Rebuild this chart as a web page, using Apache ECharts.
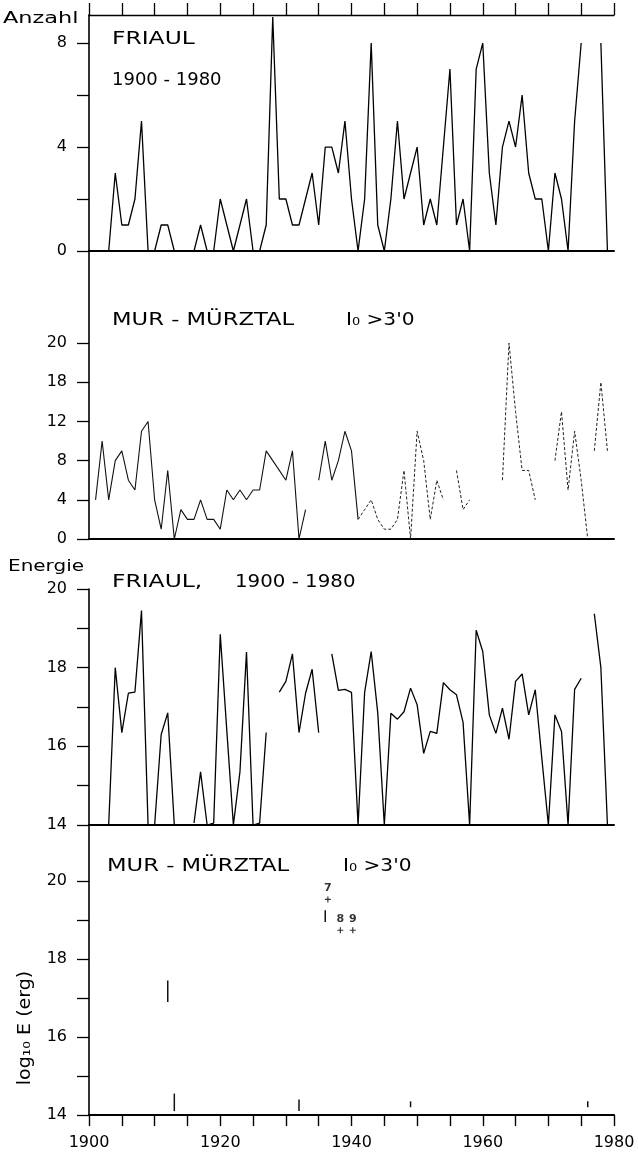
<!DOCTYPE html>
<html><head><meta charset="utf-8">
<script src="https://cdn.jsdelivr.net/npm/echarts@6/dist/echarts.min.js"></script>
<style>html,body{margin:0;padding:0;background:#fff}#c{width:638px;height:1155px}</style>
</head><body><div id="c"></div>
<script>
// ---------- data ----------
const years = [1901,1902,1903,1904,1905,1906,1907,1908,1909,1910,
  1911,1912,1913,1914,1915,1916,1917,1918,1919,1920,
  1921,1922,1923,1924,1925,1926,1927,1928,1929,1930,
  1931,1932,1933,1934,1935,1936,1937,1938,1939,1940,
  1941,1942,1943,1944,1945,1946,1947,1948,1949,1950,
  1951,1952,1953,1954,1955,1956,1957,1958,1959,1960,
  1961,1962,1963,1964,1965,1966,1967,1968,1969,1970,
  1971,1972,1973,1974,1975,1976,1977,1978,1979];

// Friaul, number of events (Anzahl)
const friaulCount = [null,null,0,3,1,1,2,5,0,0,
  1,1,0,0,0,0,1,0,0,2,
  1,0,1,2,0,0,1,9,2,2,
  1,1,2,3,1,4,4,3,5,2,
  0,2,8,1,0,2,5,2,3,4,
  1,2,1,4,7,1,2,0,7,8,
  3,1,4,5,4,6,3,2,2,0,
  3,2,0,5,8,null,null,8,0];

// Mur-Mürztal, number of events, I0 > 3.0
const murCount = [4,10,4,8,9,6,5,11,12,4,
  1,7,0,3,2,2,4,2,2,1,
  5,4,5,4,5,5,9,8,7,6,
  9,0,3,null,6,10,6,8,11,9,
  2,3,4,2,1,1,2,7,0,11,
  8,2,6,4,null,7,3,4,null,null,
  null,null,6,20,13,7,7,4,null,null,
  8,13,5,11,6,0,9,16,9];

// Friaul, energy log10 E (erg)
const friaulEnergy = [null,null,14.0,18.0,16.35,17.35,17.38,19.45,14.0,14.0,
  16.3,16.85,14.0,null,null,14.05,15.35,14.0,14.05,18.85,
  16.4,14.0,15.35,18.4,14.0,14.05,16.35,null,17.38,17.65,
  18.35,16.35,17.35,17.96,16.35,null,18.35,17.42,17.45,17.37,
  14.0,17.37,18.41,16.85,14.0,16.84,16.69,16.88,17.48,17.06,
  15.82,16.38,16.33,17.62,17.44,17.31,16.61,14.0,18.95,18.41,
  16.8,16.33,16.97,16.18,17.65,17.84,16.8,17.44,15.7,14.0,
  16.8,16.38,14.0,17.45,17.73,null,19.37,18.0,14.0];

// Mur-Mürztal energy: short vertical marks (year, low, high)
const murEBarYears = [1912, 1913, 1932, 1936, 1949, 1976];
const murEBarLow   = [16.9, 14.1, 14.1, 18.95, 14.2, 14.2];
const murEBarHigh  = [17.45, 14.55, 14.4, 19.25, 14.35, 14.35];
// Mur-Mürztal energy: labelled single events
const murEMarkYears  = [1936.4, 1938.3, 1940.2];
const murEMarkValues = [19.53, 18.74, 18.74];
const murEMarkLabels = ['7', '8', '9'];

// Mur-Mürztal count line pieces (year ranges)
const murPieces = [[1901, 1941], [1941, 1976], [1977, 1979]];

// Ticks / labels
const yearTicks  = [1900,1905,1910,1915,1920,1925,1930,1935,1940,1945,1950,1955,1960,1965,1970,1975,1980];
const yearLabels = [1900,1920,1940,1960,1980];
const countTicks  = [0,2,4,6,8];
const countLabels = [0,4,8];
const murTickValues = [0,4,8,12,16,20];
const murTickLabels = ['0','4','8','12','18','20'];
const energyTicks  = [14,15,16,17,18,19,20];
const energyLabels = [14,16,18,20];

// ---------- chart ----------
const FONT = 'DejaVu Sans';
const chart = echarts.init(document.getElementById('c'), null, {renderer: 'canvas', width: 638, height: 1155});

function pairs(vals, lo, hi) {
  return years.map((y, i) => [y, (y >= lo && y <= hi && vals[i] != null) ? vals[i] : '-']);
}
const lineAx = {show: true, onZero: false, lineStyle: {color: '#000', width: 1.6}};
const lbl = {fontFamily: FONT, fontSize: 16, color: '#000'};

function xLineOnly(gi, pos) {
  return {gridIndex: gi, type: 'value', min: 1900, max: 1980, position: pos,
    axisLine: {show: true, onZero: false, lineStyle: {color: '#000', width: 2}},
    axisTick: {show: false}, axisLabel: {show: false}, splitLine: {show: false}};
}

const option = {
  animation: false,
  backgroundColor: '#fff',
  grid: [
    {left: 89, right: 24, top: 15, height: 236},
    {left: 89, right: 24, top: 251, height: 288},
    {left: 89, right: 24, top: 589, height: 236},
    {left: 89, right: 24, top: 825, height: 290}
  ],
  xAxis: [
    {gridIndex: 0, type: 'value', min: 1900, max: 1980, position: 'top',
      axisLine: {show: true, onZero: false, lineStyle: {color: '#000', width: 1.3}},
      axisTick: {show: true, length: 12, customValues: yearTicks, lineStyle: {color: '#000', width: 1.3}},
      axisLabel: {show: false}, splitLine: {show: false}},
    xLineOnly(0, 'bottom'),
    xLineOnly(1, 'bottom'),
    xLineOnly(2, 'bottom'),
    {gridIndex: 3, type: 'value', min: 1900, max: 1980, position: 'bottom',
      axisLine: {show: true, onZero: false, lineStyle: {color: '#000', width: 2}},
      axisTick: {show: true, length: 11, customValues: yearTicks, lineStyle: {color: '#000', width: 1.4}},
      axisLabel: Object.assign({margin: 20, customValues: yearLabels, formatter: v => String(v)}, lbl),
      splitLine: {show: false}}
  ],
  yAxis: [
    {gridIndex: 0, type: 'value', min: 0, max: 9.08, axisLine: lineAx,
      axisTick: {show: true, length: 12, customValues: countTicks, lineStyle: {color: '#000', width: 1.3}},
      axisLabel: Object.assign({margin: 22, customValues: countLabels}, lbl),
      splitLine: {show: false}},
    {gridIndex: 1, type: 'value', min: 0, max: 29.4, axisLine: lineAx,
      axisTick: {show: true, length: 12, customValues: murTickValues, lineStyle: {color: '#000', width: 1.3}},
      axisLabel: Object.assign({margin: 22, customValues: murTickValues,
        formatter: v => murTickLabels[murTickValues.indexOf(v)]}, lbl),
      splitLine: {show: false}},
    {gridIndex: 2, type: 'value', min: 14, max: 20, axisLine: lineAx,
      axisTick: {show: true, length: 12, customValues: energyTicks, lineStyle: {color: '#000', width: 1.3}},
      axisLabel: Object.assign({margin: 22, customValues: energyLabels}, lbl),
      splitLine: {show: false}},
    {gridIndex: 3, type: 'value', min: 14, max: 21.44, axisLine: lineAx,
      axisTick: {show: true, length: 12, customValues: energyTicks, lineStyle: {color: '#000', width: 1.3}},
      axisLabel: Object.assign({margin: 22, customValues: energyLabels}, lbl),
      splitLine: {show: false}}
  ],
  series: [
    {type: 'line', xAxisIndex: 1, yAxisIndex: 0, symbol: 'none', data: pairs(friaulCount, 1900, 1980),
      lineStyle: {color: '#000', width: 1.3}},
    {type: 'line', xAxisIndex: 2, yAxisIndex: 1, symbol: 'none', data: pairs(murCount, murPieces[0][0], murPieces[0][1]),
      lineStyle: {color: '#111', width: 1.1}},
    {type: 'line', xAxisIndex: 2, yAxisIndex: 1, symbol: 'none', data: pairs(murCount, murPieces[1][0], murPieces[1][1]),
      lineStyle: {color: '#222', width: 1, type: [3, 2]}},
    {type: 'line', xAxisIndex: 2, yAxisIndex: 1, symbol: 'none', data: pairs(murCount, murPieces[2][0], murPieces[2][1]),
      lineStyle: {color: '#222', width: 1, type: [3, 2]}},
    {type: 'line', xAxisIndex: 3, yAxisIndex: 2, symbol: 'none', data: pairs(friaulEnergy, 1900, 1980),
      lineStyle: {color: '#000', width: 1.3}},
    {type: 'custom', xAxisIndex: 4, yAxisIndex: 3,
      data: murEBarYears.map((y, i) => [y, murEBarLow[i], murEBarHigh[i]]),
      renderItem: (params, api) => {
        const a = api.coord([api.value(0), api.value(1)]);
        const b = api.coord([api.value(0), api.value(2)]);
        return {type: 'line', shape: {x1: a[0], y1: a[1], x2: b[0], y2: b[1]},
          style: {stroke: '#111', lineWidth: 1.5}};
      }},
    {type: 'scatter', xAxisIndex: 4, yAxisIndex: 3,
      data: murEMarkYears.map((y, i) => ({value: [y, murEMarkValues[i]], name: murEMarkLabels[i]})),
      symbol: 'path://M4,0H6V4H10V6H6V10H4V6H0V4H4Z', symbolSize: 6,
      itemStyle: {color: '#000'},
      label: {show: true, position: 'top', distance: 3, formatter: p => p.name,
        fontFamily: FONT, fontSize: 11, fontWeight: 'bold', color: '#000'}}
  ],
  graphic: [
    {type: 'text', x: 3, y: 19, scaleX: 1.4, style: {text: 'Anzahl', fontFamily: FONT, fontSize: 16, fill: '#000', verticalAlign: 'middle'}},
    {type: 'text', x: 112, y: 39, scaleX: 1.3, style: {text: 'FRIAUL', fontFamily: FONT, fontSize: 18, fill: '#000', verticalAlign: 'middle'}},
    {type: 'text', x: 112, y: 80, style: {text: '1900 - 1980', fontFamily: FONT, fontSize: 18, fill: '#000', verticalAlign: 'middle'}},
    {type: 'text', x: 112, y: 320, scaleX: 1.26, style: {text: 'MUR - MÜRZTAL', fontFamily: FONT, fontSize: 18, fill: '#000', verticalAlign: 'middle'}},
    {type: 'text', x: 346, y: 320, scaleX: 1.12, style: {text: "I₀ >3'0", fontFamily: FONT, fontSize: 18, fill: '#000', verticalAlign: 'middle'}},
    {type: 'text', x: 8, y: 567, scaleX: 1.25, style: {text: 'Energie', fontFamily: FONT, fontSize: 16, fill: '#000', verticalAlign: 'middle'}},
    {type: 'text', x: 112, y: 582, scaleX: 1.3, style: {text: 'FRIAUL,', fontFamily: FONT, fontSize: 18, fill: '#000', verticalAlign: 'middle'}},
    {type: 'text', x: 235, y: 582, scaleX: 1.1, style: {text: '1900 - 1980', fontFamily: FONT, fontSize: 18, fill: '#000', verticalAlign: 'middle'}},
    {type: 'text', x: 107, y: 866, scaleX: 1.26, style: {text: 'MUR - MÜRZTAL', fontFamily: FONT, fontSize: 18, fill: '#000', verticalAlign: 'middle'}},
    {type: 'text', x: 343, y: 866, scaleX: 1.12, style: {text: "I₀ >3'0", fontFamily: FONT, fontSize: 18, fill: '#000', verticalAlign: 'middle'}},
    {type: 'text', x: 26, y: 1028, rotation: Math.PI / 2, scaleX: 1.12,
      style: {text: 'log₁₀ E (erg)', fontFamily: FONT, fontSize: 17, fill: '#000', align: 'center', verticalAlign: 'middle'}}
  ]
};
chart.setOption(option);
</script>
</body></html>
